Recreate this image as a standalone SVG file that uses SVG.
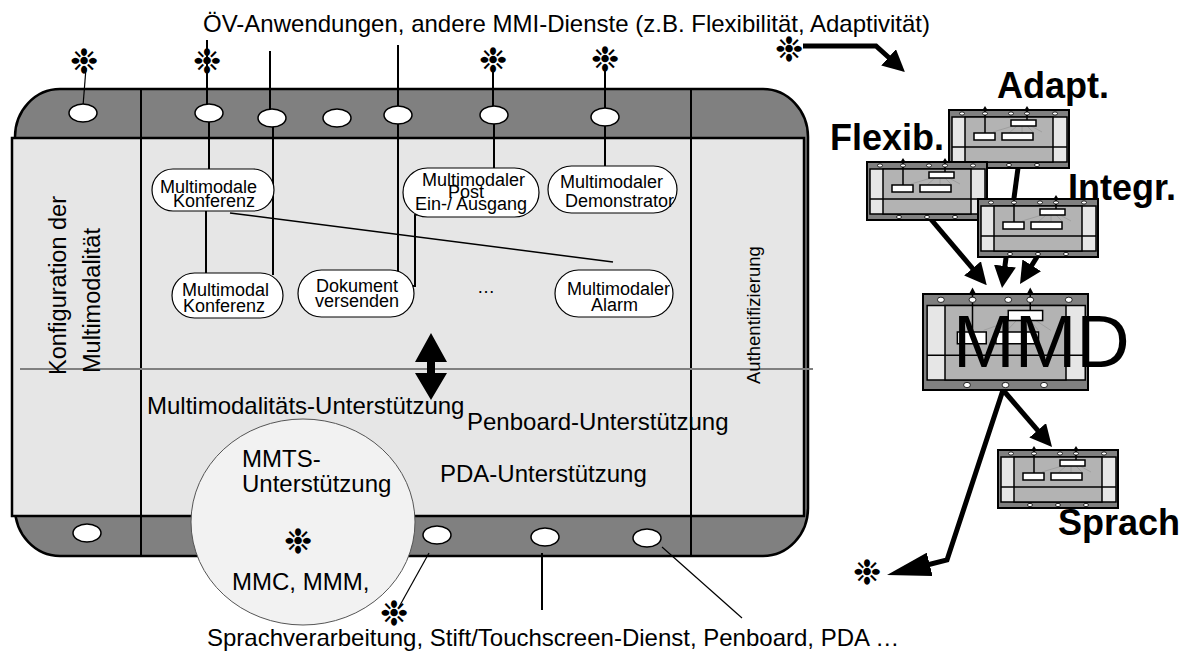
<svg xmlns="http://www.w3.org/2000/svg" xmlns:xlink="http://www.w3.org/1999/xlink" width="1191" height="658" viewBox="0 0 1191 658">
<style>
text{font-family:"Liberation Sans",Arial,sans-serif;fill:#000}
.t24{font-size:24px}
.n18{font-size:18px}
.b36{font-size:36px;font-weight:bold}
.ast{font-family:"DejaVu Sans",sans-serif;font-size:34px;text-anchor:middle}
.hole{fill:#fff;stroke:#000;stroke-width:1.5}
.node{fill:#fff;stroke:#000;stroke-width:1.2}
.ln{stroke:#000;stroke-width:2;fill:none}
.th{stroke:#000;stroke-width:1.2;fill:none}
.arr{stroke:#000;stroke-width:5;fill:none;marker-end:url(#ah)}
.arrL{stroke:#000;stroke-width:5;fill:none;marker-end:url(#ahL)}
.mod *{vector-effect:non-scaling-stroke}
.mh{fill:#fff;stroke:#000;stroke-width:0.8}
.mb{fill:#fff;stroke:#000;stroke-width:1.5}
.mf{stroke:#999;stroke-width:0.8}
</style>
<defs>
<marker id="ah" markerUnits="userSpaceOnUse" viewBox="0 0 22 22" markerWidth="22" markerHeight="22" refX="10" refY="11" orient="auto"><path d="M0,0 L22,11 L0,22 z" fill="#000"/></marker>
<marker id="ahL" markerUnits="userSpaceOnUse" viewBox="0 0 44 24" markerWidth="44" markerHeight="24" refX="20" refY="12" orient="auto"><path d="M0,0 L44,12 L0,24 z" fill="#000"/></marker>
<g id="mod" class="mod">
<rect x="0" y="0" width="120" height="58" fill="#808080" stroke="#000" stroke-width="2"/>
<rect x="3" y="7" width="115" height="45" fill="#e6e6e6" stroke="#000" stroke-width="1.5"/>
<rect x="16" y="7" width="88" height="45" fill="#b3b3b3" stroke="#000" stroke-width="1.5"/>
<line x1="3" y1="37" x2="118" y2="37" stroke="#000" stroke-width="1.5"/>
<line class="mf" x1="64" y1="16" x2="44" y2="22"/>
<line class="mf" x1="68" y1="16" x2="60" y2="23"/>
<line class="mf" x1="73" y1="16" x2="73" y2="23"/>
<line class="mf" x1="78" y1="16" x2="84" y2="22"/>
<line class="mf" x1="82" y1="16" x2="93" y2="22"/>
<rect class="mb" x="25" y="23" width="21" height="7"/>
<rect class="mb" x="53" y="23" width="31" height="7"/>
<rect class="mb" x="62" y="10" width="25" height="6"/>
<line x1="36" y1="23" x2="36" y2="0" stroke="#000" stroke-width="1.5"/>
<line x1="78" y1="10" x2="78" y2="0" stroke="#000" stroke-width="1.5"/>
<polygon points="33.5,0 36,-4 38.5,0" fill="#000"/>
<polygon points="75.5,0 78,-4 80.5,0" fill="#000"/>
<ellipse class="mh" cx="13" cy="3.5" rx="2.5" ry="1.6"/>
<ellipse class="mh" cx="36" cy="3.5" rx="2.5" ry="1.6"/>
<ellipse class="mh" cx="62" cy="3.5" rx="2.5" ry="1.6"/>
<ellipse class="mh" cx="78" cy="3.5" rx="2.5" ry="1.6"/>
<ellipse class="mh" cx="106" cy="3.5" rx="2.5" ry="1.6"/>
<ellipse class="mh" cx="32" cy="55" rx="2.5" ry="1.6"/>
<ellipse class="mh" cx="60" cy="55" rx="2.5" ry="1.6"/>
<ellipse class="mh" cx="88" cy="55" rx="2.5" ry="1.6"/>
</g>
</defs>

<rect width="1191" height="658" fill="#fff"/>

<g id="mainbox">
<rect x="15" y="89" width="793" height="467" rx="45" ry="48" fill="#808080" stroke="#000" stroke-width="2.5"/>
<rect x="12" y="138" width="792" height="378" fill="#e6e6e6" stroke="#000" stroke-width="2.5"/>
<line class="ln" x1="141" y1="89" x2="141" y2="556"/>
<line class="ln" x1="691" y1="89" x2="691" y2="556"/>
<line x1="20" y1="369" x2="813" y2="369" stroke="#808080" stroke-width="2"/>
<text class="t24" transform="translate(66,375) rotate(-90)" style="font-size:23.5px">Konfiguration der</text>
<text class="t24" transform="translate(100,373) rotate(-90)" style="font-size:23.5px">Multimodalität</text>
<text transform="translate(760,384) rotate(-90)" style="font-size:18.5px">Authentifizierung</text>
<text class="t24" x="147" y="414">Multimodalitäts-Unterstützung</text>
<text class="t24" x="467" y="430">Penboard-Unterstützung</text>
<text class="t24" x="440" y="482">PDA-Unterstützung</text>
</g>

<g id="title">
<text class="t24" x="203" y="32">ÖV-Anwendungen, andere MMI-Dienste (z.B. Flexibilität, Adaptivität)</text>
<text class="t24" x="207" y="646">Sprachverarbeitung, Stift/Touchscreen-Dienst, Penboard, PDA …</text>
</g>

<g id="connectors">
<path class="th" d="M86,68 L83,106"/>
<path class="ln" d="M207,40 L207,104"/>
<path class="ln" d="M209,122 L209,169"/>
<path class="ln" d="M270,51 L270,110"/>
<path class="ln" d="M273,126 L273,275"/>
<path class="ln" d="M398,45 L398,272"/>
<path class="ln" d="M419,214 L415,215 L415,286 L412,286"/>
<path class="ln" d="M493,67 L493,107"/>
<path class="ln" d="M494,123 L494,168"/>
<path class="ln" d="M605,67 L605,109"/>
<path class="ln" d="M605,125 L605,166"/>
<path class="ln" d="M206,211 L206,273"/>
<path class="th" d="M230,213 L613,262" style="stroke-width:1.5"/>
<path class="th" d="M429,553 L399,607"/>
<path class="ln" d="M542,553 L542,610"/>
<path class="th" d="M662,547 L742,618"/>
<polygon points="431,333 447,362 435,362 435,373 447,373 431,400 415,373 427,373 427,362 415,362" fill="#000"/>
<path class="arr" d="M803,46 L876,46 L896,64"/>
<path class="arr" d="M929,217 L979,276"/>
<path class="arr" d="M1018,168 L1003.6,276"/>
<path class="arr" d="M1037,257 L1026.4,273.8"/>
<path class="arr" d="M1003,390 L1044.2,437.9"/>
<path class="arrL" d="M1003,390 L947,560 L910.3,569.2"/>
</g>

<g id="holes">
<ellipse class="hole" cx="83" cy="113" rx="14" ry="9"/>
<ellipse class="hole" cx="209" cy="113" rx="14" ry="9"/>
<ellipse class="hole" cx="272" cy="118" rx="14" ry="9"/>
<ellipse class="hole" cx="337" cy="118" rx="14" ry="9"/>
<ellipse class="hole" cx="398" cy="115" rx="14" ry="9"/>
<ellipse class="hole" cx="494" cy="115" rx="14" ry="9"/>
<ellipse class="hole" cx="605" cy="117" rx="14" ry="9"/>
<ellipse class="hole" cx="87" cy="533" rx="14" ry="9"/>
<ellipse class="hole" cx="437" cy="535" rx="14" ry="9"/>
<ellipse class="hole" cx="545" cy="537" rx="14" ry="9"/>
<ellipse class="hole" cx="647" cy="538" rx="14" ry="9"/>
</g>

<g id="stars">
<text class="ast" x="84" y="73">❉</text>
<text class="ast" x="207" y="73">❉</text>
<text class="ast" x="493" y="72">❉</text>
<text class="ast" x="605" y="71">❉</text>
<text class="ast" x="789" y="61">❉</text>
<text class="ast" x="394" y="625">❉</text>
<text class="ast" x="867" y="584">❉</text>
</g>

<g id="node-mm-konferenz">
<rect class="node" x="152" y="169" width="122" height="42" rx="21"/>
<text class="n18" x="160" y="192.5">Multimodale</text>
<text class="n18" x="173" y="207">Konferenz</text>
</g>
<g id="node-mm-konferenz2">
<rect class="node" x="172" y="273" width="111" height="45" rx="22.5"/>
<text class="n18" x="182" y="296">Multimodal</text>
<text class="n18" x="183" y="312">Konferenz</text>
</g>
<g id="node-dokument">
<rect class="node" x="298" y="270" width="116" height="47" rx="23.5"/>
<text class="n18" x="316" y="292">Dokument</text>
<text class="n18" x="315" y="307">versenden</text>
</g>
<g id="node-post">
<rect class="node" x="403" y="168" width="136" height="49" rx="24.5"/>
<text class="n18" x="422" y="186">Multimodaler</text>
<text class="n18" x="448" y="198">Post</text>
<text class="n18" x="415" y="210">Ein-/ Ausgang</text>
</g>
<g id="node-demonstrator">
<rect class="node" x="548" y="166" width="129" height="47" rx="23.5"/>
<text class="n18" x="560" y="188">Multimodaler</text>
<text class="n18" x="565" y="207">Demonstrator</text>
</g>
<g id="node-alarm">
<rect class="node" x="555" y="270" width="118" height="47" rx="23.5"/>
<text class="n18" x="567" y="295">Multimodaler</text>
<text class="n18" x="591" y="311">Alarm</text>
</g>
<g id="node-dots">
<text class="n18" x="477" y="293">…</text>
</g>

<g id="node-mmts">
<ellipse cx="303" cy="522" rx="112" ry="103" fill="#f2f2f2" stroke="#555" stroke-width="1"/>
<text class="t24" x="242" y="467">MMTS-</text>
<text class="t24" x="242" y="492">Unterstützung</text>
<text class="ast" x="298" y="553">❉</text>
<text class="t24" x="232" y="590">MMC, MMM,</text>
</g>

<g id="node-adapt">
<use xlink:href="#mod" transform="translate(949,110)"/>
<text class="b36" x="997" y="98">Adapt.</text>
</g>
<g id="node-flexib">
<use xlink:href="#mod" transform="translate(867,162)"/>
<text class="b36" x="830" y="150">Flexib.</text>
</g>
<g id="node-integr">
<use xlink:href="#mod" transform="translate(978,199)"/>
<text class="b36" x="1068" y="200">Integr.</text>
</g>
<g id="node-mmd">
<use xlink:href="#mod" transform="translate(923,294) scale(1.375,1.655)"/>
<text x="953" y="367" style="font-size:74px">MMD</text>
</g>
<g id="node-sprach">
<use xlink:href="#mod" transform="translate(998,450)"/>
<text class="b36" x="1058" y="535">Sprach</text>
</g>
</svg>
